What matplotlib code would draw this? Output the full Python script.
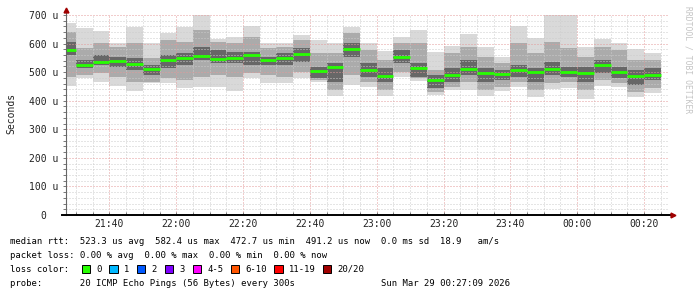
import matplotlib
matplotlib.use("Agg")
import matplotlib.pyplot as plt
from matplotlib.patches import Rectangle

# Time steps: minutes after 21:00, one column every 5 min
step_start = 25
step_len = 5

# Median rtt per step (microseconds)
median_us = [577, 524, 534, 538, 530, 511, 542, 549, 555, 546, 548, 561, 541, 548, 565, 504, 517, 582,
             506, 486, 553, 516, 473, 490, 512, 497, 495, 507, 500, 512, 502, 498, 526, 502, 486, 491]

# Smoke: full range (min / max ping)
min_us = [451, 478, 467, 451, 434, 461, 461, 443, 449, 449, 435, 478, 461, 461, 478, 467, 416, 455,
          447, 416, 484, 470, 420, 437, 437, 416, 435, 449, 414, 440, 443, 405, 451, 449, 412, 428]
max_us = [673, 656, 644, 603, 659, 601, 636, 659, 700, 615, 624, 661, 601, 603, 630, 612, 603, 659,
          601, 575, 622, 648, 572, 591, 634, 589, 554, 661, 618, 700, 700, 587, 615, 603, 580, 568]

# Smoke: outer band (approx. 10th / 90th ping)
mid_lo = [484, 490, 496, 484, 467, 467, 478, 472, 484, 490, 484, 496, 490, 484, 502, 472, 437, 490,
          467, 437, 502, 478, 432, 449, 467, 437, 449, 467, 437, 461, 467, 437, 472, 461, 432, 443]
mid_hi = [642, 583, 601, 589, 601, 548, 612, 607, 648, 607, 601, 624, 583, 589, 612, 566, 566, 636,
          577, 542, 601, 601, 507, 566, 589, 554, 531, 601, 566, 607, 583, 554, 589, 577, 542, 542]

# Smoke: dense core (approx. quartiles)
core_lo = [560, 513, 525, 519, 507, 490, 513, 525, 543, 531, 531, 525, 525, 525, 537, 478, 467, 554,
           484, 467, 531, 484, 443, 467, 490, 467, 472, 484, 467, 490, 484, 467, 496, 478, 455, 472]
core_hi = [607, 542, 560, 554, 548, 525, 560, 566, 589, 577, 572, 572, 554, 566, 583, 519, 531, 601,
           531, 513, 577, 531, 490, 513, 543, 513, 508, 525, 513, 537, 519, 519, 543, 519, 507, 513]

y_ticks = [0, 100, 200, 300, 400, 500, 600, 700]
y_tick_labels = ["0  ", "100 u", "200 u", "300 u", "400 u", "500 u", "600 u", "700 u"]
x_tick_labels = ["21:40", "22:00", "22:20", "22:40", "23:00", "23:20", "23:40", "00:00", "00:20"]

loss_labels = ["0", "1", "2", "3", "4-5", "6-10", "11-19", "20/20"]
loss_colors = ["#26ff00", "#00b8ff", "#0059ff", "#7e00ff", "#ff00ff", "#ff5500", "#ff0000", "#a00000"]

legend_rtt = "median rtt:  523.3 us avg  582.4 us max  472.7 us min  491.2 us now  0.0 ms sd  18.9   am/s"
legend_loss = "packet loss: 0.00 % avg  0.00 % max  0.00 % min  0.00 % now"
legend_probe = "probe:       20 ICMP Echo Pings (56 Bytes) every 300s"
timestamp = "Sun Mar 29 00:27:09 2026"

MONO = "DejaVu Sans Mono"
W, H = 697, 297

# Figure and axes (pixel layout)
fig = plt.figure(figsize=(W / 100, H / 100), dpi=100)
ax = fig.add_axes([66 / W, 82 / H, 602 / W, 200 / H])

starts = [step_start + i * step_len for i in range(len(median_us))]

# Smoke layers
ax.bar(starts, [hi - lo for lo, hi in zip(min_us, max_us)], bottom=min_us, width=step_len,
       align="edge", color="#d9d9d9", linewidth=0, zorder=1)
ax.bar(starts, [hi - lo for lo, hi in zip(mid_lo, mid_hi)], bottom=mid_lo, width=step_len,
       align="edge", color="#ababab", linewidth=0, zorder=1)
ax.bar(starts, [hi - lo for lo, hi in zip(core_lo, core_hi)], bottom=core_lo, width=step_len,
       align="edge", color="#676767", linewidth=0, zorder=1)

# Median line
ax.hlines(median_us, starts, [s + step_len for s in starts], colors=loss_colors[0],
          linewidth=2.0, zorder=3)

# Scales
ax.set_xlim(27.0, 207.2)
ax.set_ylim(0, 700)

x_ticks = []
for lab in x_tick_labels:
    h, m = int(lab[:2]), int(lab[3:])
    if h < 12:
        h += 24
    x_ticks.append((h - 21) * 60 + m)

ax.set_xticks(x_ticks)
ax.set_xticklabels(x_tick_labels)
ax.set_xticks(range(30, 210, 5), minor=True)
ax.set_yticks(y_ticks)
ax.set_yticklabels(y_tick_labels)
ax.set_yticks(range(0, 701, 20), minor=True)

for t in ax.get_xticklabels() + ax.get_yticklabels():
    t.set_fontfamily(MONO)
    t.set_fontsize(7)
    t.set_color("#222222")

ax.tick_params(axis="y", which="both", length=2, width=0.7, color="#777777", pad=3.6)
ax.tick_params(axis="x", which="both", length=2, width=0.7, color="#777777", pad=3.2,
               direction="in")

# Grid (dotted, drawn over smoke)
ax.set_axisbelow(False)
ax.grid(True, which="minor", color="#cccccc", linestyle=(0, (1, 2)), linewidth=0.72, zorder=2)
ax.grid(True, which="major", color="#e49a9a", linestyle=(0, (1, 2)), linewidth=0.72, zorder=2)

for s in ax.spines.values():
    s.set_visible(False)

# Axis lines with arrows
ax.plot([0, 0], [0, 1.025], transform=ax.transAxes, color="#666666", lw=0.8, clip_on=False, zorder=4)
ax.plot([-0.007, 1.008], [0, 0], transform=ax.transAxes, color="black", lw=1.4, clip_on=False, zorder=4)
ax.plot([0], [1.025], transform=ax.transAxes, marker="^", ms=3.5, color="#a00000", clip_on=False, zorder=5)
ax.plot([1.009], [0], transform=ax.transAxes, marker=">", ms=3.5, color="#a00000", clip_on=False, zorder=5)

# Axis title and watermark
fig.text(11 / W, 1 - 113 / H, "Seconds", rotation=90, ha="center", va="center",
         fontfamily=MONO, fontsize=7, color="#222222")
fig.text(688 / W, 1 - 60 / H, "RRDTOOL / TOBI OETIKER", rotation=270, ha="center", va="center",
         fontfamily=MONO, fontsize=5.8, color="#c4c4c4")

# Legend
fs = 6.4
fig.text(10.3 / W, 1 - 241 / H, legend_rtt, ha="left", va="center", fontfamily=MONO, fontsize=fs)
fig.text(10.3 / W, 1 - 256 / H, legend_loss, ha="left", va="center", fontfamily=MONO, fontsize=fs)
fig.text(10.3 / W, 1 - 269 / H, "loss color:", ha="left", va="center", fontfamily=MONO, fontsize=fs)

box_x = [81.7, 109, 136.7, 164.7, 192.7, 230.7, 274, 322.7]
for bx, lab, col in zip(box_x, loss_labels, loss_colors):
    fig.patches.append(Rectangle((bx / W, 1 - 273 / H), 8.5 / W, 8.5 / H, transform=fig.transFigure,
                                 facecolor=col, edgecolor="black", linewidth=0.7))
    fig.text((bx + 15) / W, 1 - 269 / H, lab, ha="left", va="center", fontfamily=MONO, fontsize=fs)

fig.text(10.3 / W, 1 - 284 / H, legend_probe, ha="left", va="center", fontfamily=MONO, fontsize=fs)
fig.text(510 / W, 1 - 284 / H, timestamp, ha="right", va="center", fontfamily=MONO, fontsize=fs)

fig.savefig("out.png", dpi=100, facecolor="white")
